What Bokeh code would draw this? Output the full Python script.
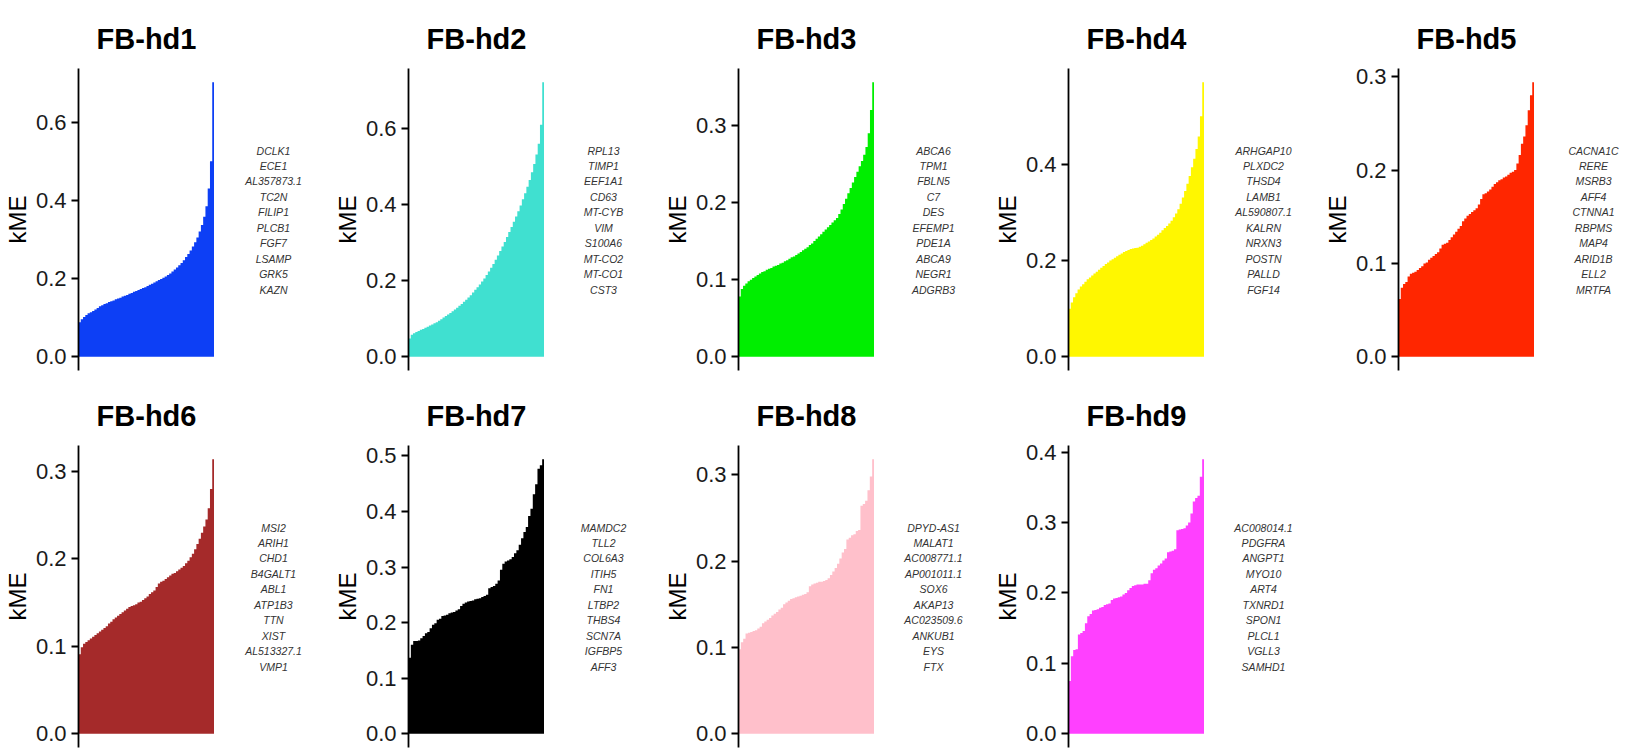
from bokeh.plotting import figure
from bokeh.models import Range1d, FixedTicker, PrintfTickFormatter, ColumnDataSource
from bokeh.layouts import column, row
from bokeh.core.properties import value
from bokeh.embed import file_html
from bokeh.resources import INLINE

# ---------------- data ----------------
titles = ["FB-hd1", "FB-hd2", "FB-hd3", "FB-hd4", "FB-hd5",
          "FB-hd6", "FB-hd7", "FB-hd8", "FB-hd9"]

colors = ["#0d3ff5", "#40e0d0", "#00ee00", "#fff700", "#ff2600",
          "#a52a2a", "#000000", "#ffc0cb", "#ff40ff"]

kme_hd1 = [0.088, 0.096, 0.102, 0.107, 0.111, 0.114, 0.117, 0.121, 0.125, 0.129,
           0.132, 0.135, 0.137, 0.140, 0.142, 0.144, 0.147, 0.149, 0.151, 0.154,
           0.156, 0.158, 0.161, 0.163, 0.166, 0.168, 0.171, 0.173, 0.176, 0.178,
           0.181, 0.184, 0.187, 0.190, 0.193, 0.196, 0.199, 0.202, 0.205, 0.209,
           0.213, 0.218, 0.223, 0.228, 0.234, 0.240, 0.247, 0.255, 0.263, 0.272,
           0.282, 0.293, 0.305, 0.320, 0.337, 0.358, 0.385, 0.430, 0.500, 0.702]

kme_hd2 = [0.048, 0.058, 0.062, 0.065, 0.068, 0.071, 0.073, 0.076, 0.079, 0.082,
           0.085, 0.088, 0.091, 0.095, 0.099, 0.103, 0.107, 0.111, 0.115, 0.120,
           0.124, 0.129, 0.134, 0.139, 0.145, 0.150, 0.156, 0.162, 0.169, 0.176,
           0.183, 0.190, 0.198, 0.206, 0.215, 0.224, 0.234, 0.244, 0.255, 0.266,
           0.278, 0.290, 0.302, 0.315, 0.328, 0.341, 0.355, 0.369, 0.383, 0.398,
           0.414, 0.430, 0.447, 0.465, 0.485, 0.507, 0.532, 0.560, 0.610, 0.722]

kme_hd3 = [0.078, 0.088, 0.092, 0.095, 0.098, 0.100, 0.102, 0.104, 0.106, 0.108,
           0.110, 0.111, 0.113, 0.114, 0.115, 0.117, 0.118, 0.119, 0.121, 0.122,
           0.124, 0.125, 0.127, 0.129, 0.130, 0.132, 0.134, 0.136, 0.138, 0.140,
           0.142, 0.145, 0.147, 0.150, 0.153, 0.156, 0.159, 0.162, 0.165, 0.168,
           0.171, 0.174, 0.177, 0.180, 0.185, 0.191, 0.198, 0.205, 0.212, 0.219,
           0.226, 0.233, 0.240, 0.247, 0.254, 0.262, 0.272, 0.290, 0.320, 0.356]

kme_hd4 = [0.100, 0.113, 0.124, 0.132, 0.140, 0.146, 0.151, 0.156, 0.161, 0.165,
           0.169, 0.173, 0.177, 0.181, 0.185, 0.189, 0.193, 0.196, 0.200, 0.203,
           0.206, 0.209, 0.212, 0.215, 0.218, 0.220, 0.222, 0.224, 0.225, 0.226,
           0.227, 0.229, 0.231, 0.234, 0.237, 0.240, 0.243, 0.246, 0.250, 0.254,
           0.258, 0.263, 0.268, 0.272, 0.277, 0.283, 0.290, 0.298, 0.307, 0.318,
           0.331, 0.345, 0.360, 0.376, 0.394, 0.412, 0.432, 0.458, 0.500, 0.571]

kme_hd5 = [0.062, 0.074, 0.078, 0.080, 0.086, 0.089, 0.090, 0.091, 0.093, 0.095,
           0.097, 0.100, 0.101, 0.104, 0.106, 0.108, 0.110, 0.112, 0.116, 0.120,
           0.121, 0.122, 0.125, 0.128, 0.131, 0.134, 0.137, 0.140, 0.145, 0.148,
           0.151, 0.153, 0.155, 0.157, 0.159, 0.163, 0.169, 0.174, 0.175, 0.177,
           0.179, 0.182, 0.185, 0.187, 0.189, 0.190, 0.192, 0.193, 0.195, 0.197,
           0.198, 0.200, 0.207, 0.216, 0.228, 0.236, 0.248, 0.264, 0.280, 0.294]

kme_hd6 = [0.091, 0.099, 0.103, 0.105, 0.107, 0.109, 0.111, 0.113, 0.115, 0.117,
           0.119, 0.121, 0.123, 0.126, 0.128, 0.131, 0.133, 0.135, 0.137, 0.139,
           0.141, 0.143, 0.145, 0.146, 0.147, 0.148, 0.150, 0.151, 0.153, 0.155,
           0.157, 0.160, 0.162, 0.164, 0.168, 0.172, 0.174, 0.175, 0.177, 0.179,
           0.181, 0.183, 0.184, 0.186, 0.188, 0.190, 0.192, 0.195, 0.198, 0.202,
           0.206, 0.211, 0.217, 0.223, 0.230, 0.237, 0.245, 0.258, 0.280, 0.314]

kme_hd7 = [0.137, 0.160, 0.167, 0.167, 0.168, 0.172, 0.176, 0.181, 0.183, 0.190,
           0.196, 0.199, 0.205, 0.207, 0.212, 0.213, 0.214, 0.217, 0.218, 0.219,
           0.222, 0.224, 0.230, 0.234, 0.236, 0.238, 0.239, 0.240, 0.242, 0.243,
           0.244, 0.246, 0.248, 0.250, 0.262, 0.264, 0.266, 0.270, 0.276, 0.295,
           0.306, 0.310, 0.312, 0.314, 0.318, 0.325, 0.330, 0.340, 0.352, 0.363,
           0.372, 0.392, 0.405, 0.431, 0.449, 0.477, 0.483, 0.494]

kme_hd8 = [0.098, 0.106, 0.110, 0.116, 0.117, 0.118, 0.119, 0.120, 0.122, 0.124,
           0.128, 0.130, 0.132, 0.134, 0.137, 0.139, 0.141, 0.144, 0.146, 0.150,
           0.152, 0.154, 0.156, 0.157, 0.158, 0.159, 0.160, 0.161, 0.162, 0.164,
           0.171, 0.173, 0.174, 0.175, 0.176, 0.176, 0.177, 0.178, 0.180, 0.184,
           0.188, 0.192, 0.197, 0.203, 0.210, 0.214, 0.225, 0.227, 0.230, 0.231,
           0.235, 0.236, 0.264, 0.266, 0.270, 0.282, 0.298, 0.318]

kme_hd9 = [0.075, 0.110, 0.119, 0.120, 0.141, 0.143, 0.146, 0.157, 0.167, 0.170,
           0.175, 0.176, 0.177, 0.179, 0.180, 0.183, 0.184, 0.185, 0.190, 0.192,
           0.193, 0.194, 0.195, 0.198, 0.200, 0.204, 0.207, 0.210, 0.211, 0.212,
           0.212, 0.212, 0.213, 0.213, 0.218, 0.228, 0.233, 0.235, 0.239, 0.242,
           0.246, 0.249, 0.258, 0.259, 0.260, 0.262, 0.289, 0.290, 0.291, 0.292,
           0.296, 0.300, 0.313, 0.330, 0.335, 0.338, 0.365, 0.390]

genes_hd1 = ["DCLK1", "ECE1", "AL357873.1", "TC2N", "FILIP1", "PLCB1", "FGF7", "LSAMP", "GRK5", "KAZN"]
genes_hd2 = ["RPL13", "TIMP1", "EEF1A1", "CD63", "MT-CYB", "VIM", "S100A6", "MT-CO2", "MT-CO1", "CST3"]
genes_hd3 = ["ABCA6", "TPM1", "FBLN5", "C7", "DES", "EFEMP1", "PDE1A", "ABCA9", "NEGR1", "ADGRB3"]
genes_hd4 = ["ARHGAP10", "PLXDC2", "THSD4", "LAMB1", "AL590807.1", "KALRN", "NRXN3", "POSTN", "PALLD", "FGF14"]
genes_hd5 = ["CACNA1C", "RERE", "MSRB3", "AFF4", "CTNNA1", "RBPMS", "MAP4", "ARID1B", "ELL2", "MRTFA"]
genes_hd6 = ["MSI2", "ARIH1", "CHD1", "B4GALT1", "ABL1", "ATP1B3", "TTN", "XIST", "AL513327.1", "VMP1"]
genes_hd7 = ["MAMDC2", "TLL2", "COL6A3", "ITIH5", "FN1", "LTBP2", "THBS4", "SCN7A", "IGFBP5", "AFF3"]
genes_hd8 = ["DPYD-AS1", "MALAT1", "AC008771.1", "AP001011.1", "SOX6", "AKAP13", "AC023509.6", "ANKUB1", "EYS", "FTX"]
genes_hd9 = ["AC008014.1", "PDGFRA", "ANGPT1", "MYO10", "ART4", "TXNRD1", "SPON1", "PLCL1", "VGLL3", "SAMHD1"]

ticks_hd1 = [0.0, 0.2, 0.4, 0.6]
ticks_hd2 = [0.0, 0.2, 0.4, 0.6]
ticks_hd3 = [0.0, 0.1, 0.2, 0.3]
ticks_hd4 = [0.0, 0.2, 0.4]
ticks_hd5 = [0.0, 0.1, 0.2, 0.3]
ticks_hd6 = [0.0, 0.1, 0.2, 0.3]
ticks_hd7 = [0.0, 0.1, 0.2, 0.3, 0.4, 0.5]
ticks_hd8 = [0.0, 0.1, 0.2, 0.3]
ticks_hd9 = [0.0, 0.1, 0.2, 0.3, 0.4]

values_list = [kme_hd1, kme_hd2, kme_hd3, kme_hd4, kme_hd5, kme_hd6, kme_hd7, kme_hd8, kme_hd9]
genes_list = [genes_hd1, genes_hd2, genes_hd3, genes_hd4, genes_hd5, genes_hd6, genes_hd7, genes_hd8, genes_hd9]
ticks_list = [ticks_hd1, ticks_hd2, ticks_hd3, ticks_hd4, ticks_hd5, ticks_hd6, ticks_hd7, ticks_hd8, ticks_hd9]

# ---------------- layout constants ----------------
PANEL_H = 377
FRAME_L = 77
FRAME_W = 137
FRAME_T = 68
FRAME_B = 7
BAR_FIG_W = FRAME_L + FRAME_W
LABEL_CX = 273       # centre of gene list, px from panel left
LABEL_Y0 = 150       # first gene, px from panel top
LABEL_STEP = 15.45
FONT = "Liberation Sans"


def make_bars(title, color, vals, ticks):
    n = len(vals)
    vmax = max(vals)
    y0, y1 = -0.05 * vmax, 1.05 * vmax
    p = figure(width=BAR_FIG_W, height=PANEL_H,
               x_range=Range1d(-0.5, n - 0.5), y_range=Range1d(y0, y1),
               output_backend="svg", toolbar_location=None,
               x_axis_location=None, title=title,
               min_border_left=FRAME_L, min_border_right=0,
               min_border_top=FRAME_T, min_border_bottom=FRAME_B)
    p.outline_line_color = None
    p.grid.visible = False
    p.border_fill_color = "white"

    edges = [i - 0.5 for i in range(n + 1)]
    tops = list(vals) + [vals[-1]]
    p.varea_step(x=edges, y1=[0.0] * (n + 1), y2=tops, step_mode="after",
                 fill_color=color)

    ax = p.yaxis[0]
    ax.ticker = FixedTicker(ticks=ticks)
    ax.formatter = PrintfTickFormatter(format="%.1f")
    ax.minor_tick_line_color = None
    ax.major_tick_in = 0
    ax.major_tick_out = 7
    ax.major_tick_line_width = 1.8
    ax.major_tick_line_color = "black"
    ax.axis_line_width = 1.8
    ax.axis_line_color = "black"
    ax.major_label_text_font = FONT
    ax.major_label_text_font_size = "22px"
    ax.major_label_text_color = "#1a1a1a"
    ax.major_label_standoff = 5
    ax.axis_label = "kME"
    ax.axis_label_text_font = FONT
    ax.axis_label_text_font_size = "24px"
    ax.axis_label_text_font_style = "normal"
    ax.axis_label_text_color = "black"
    ax.axis_label_standoff = 2

    p.title.text_font = FONT
    p.title.text_font_size = "29px"
    p.title.text_font_style = "bold"
    p.title.text_color = "black"
    p.title.align = "center"
    p.title.standoff = 28
    return p


def make_genes(genes, width):
    # frame spans the same vertical band as the bar panel; y measured in px from panel top
    t = figure(width=width, height=PANEL_H,
               x_range=Range1d(0, width), y_range=Range1d(PANEL_H - FRAME_B, FRAME_T),
               output_backend="svg", toolbar_location=None,
               x_axis_location=None, y_axis_location=None,
               min_border_left=0, min_border_right=0,
               min_border_top=FRAME_T, min_border_bottom=FRAME_B)
    t.outline_line_color = None
    t.grid.visible = False
    cx = LABEL_CX - BAR_FIG_W
    ys = [LABEL_Y0 + k * LABEL_STEP for k in range(len(genes))]
    src = ColumnDataSource(dict(x=[cx] * len(genes), y=ys, t=genes))
    t.text(x="x", y="y", text="t", source=src,
           text_align="center", text_baseline="middle",
           text_font=value(FONT), text_font_size="10.5px",
           text_font_style="italic", text_color="#333333")
    return t


cells = []
for i in range(9):
    w = 322 if i == 4 else 330
    cells.append(make_bars(titles[i], colors[i], values_list[i], ticks_list[i]))
    cells.append(make_genes(genes_list[i], w - BAR_FIG_W))

layout = column(row(*cells[:10]), row(*cells[10:]))

open("out.html", "w").write(file_html(layout, INLINE))
